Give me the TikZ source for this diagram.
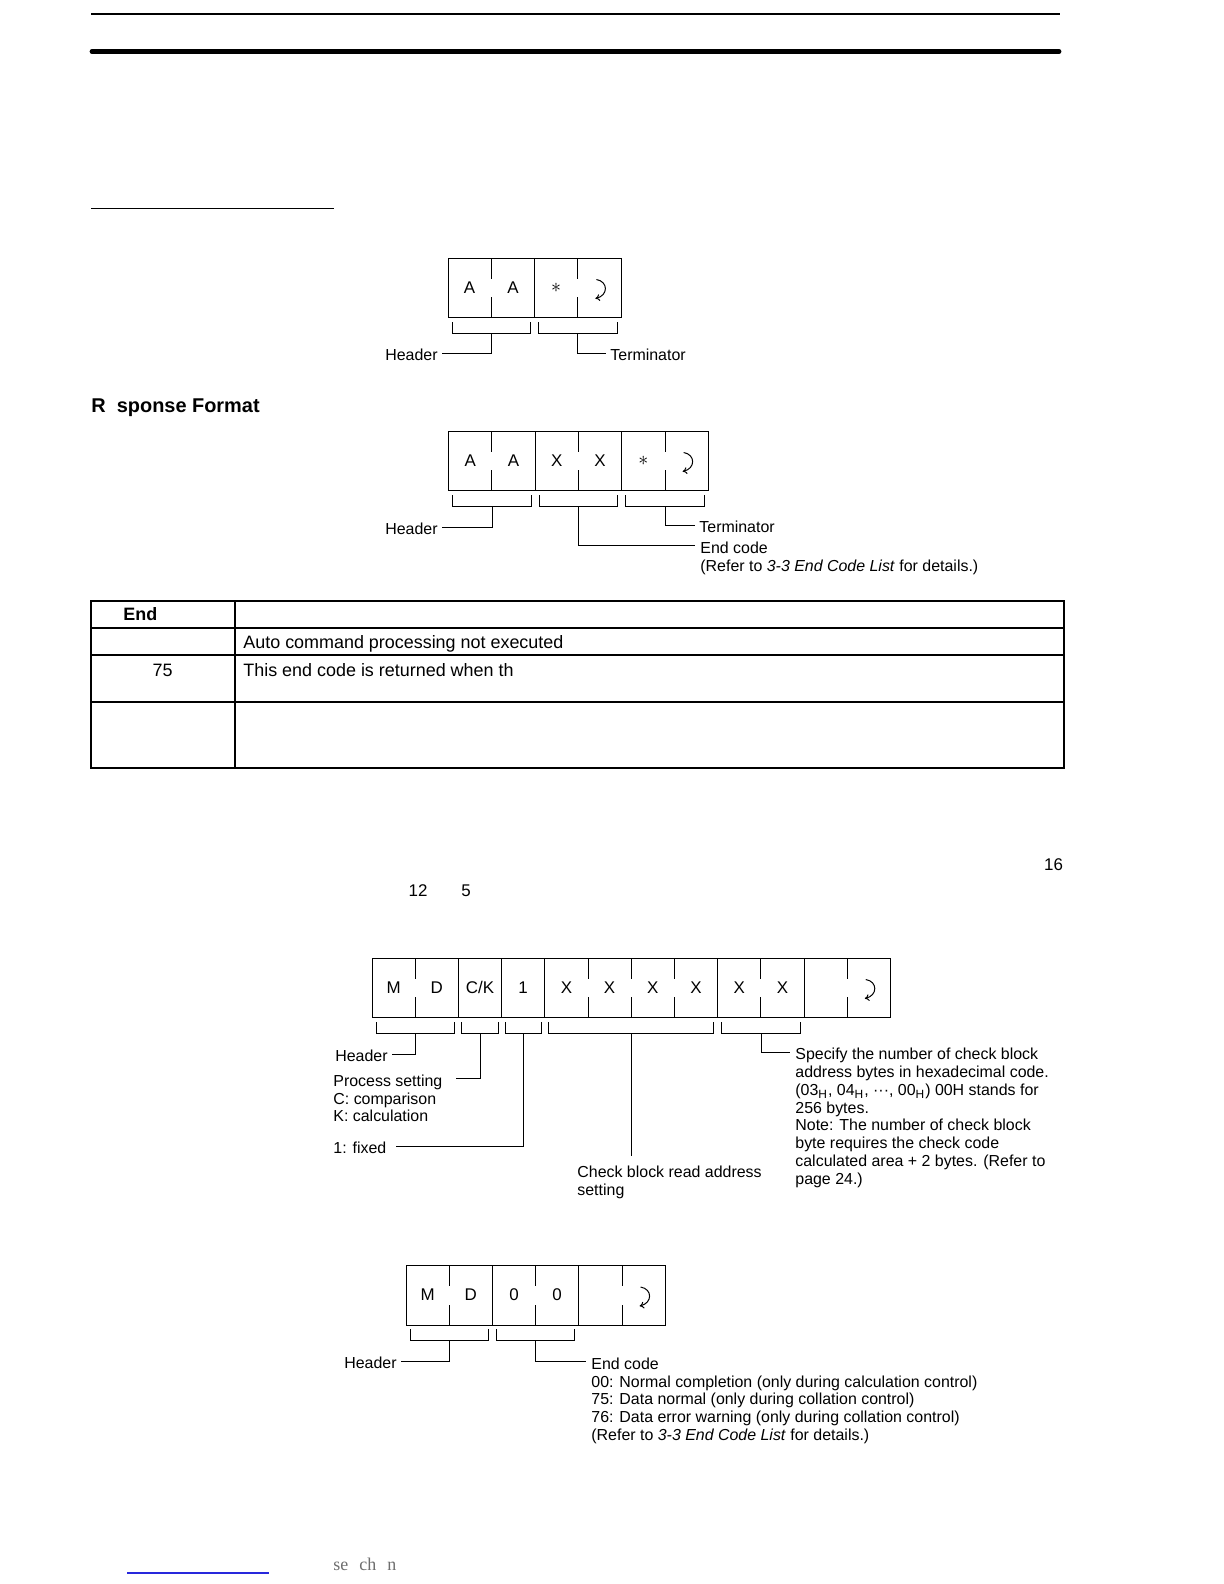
\documentclass[tikz,border=0pt]{standalone}
\usepackage{fontspec}
\setmainfont{Liberation Sans}
\newfontfamily\pgserif{Liberation Serif}
\usetikzlibrary{arrows.meta}
\newcommand\dgfont{\fontsize{8}{8.9}\selectfont}
\newcommand\cellfont{\fontsize{8.5}{9}\selectfont}
\newcommand\tabfont{\fontsize{9}{10}\selectfont}
\definecolor{linkblue}{RGB}{40,40,220}
\definecolor{footgrey}{RGB}{110,110,110}
\begin{document}
\begin{tikzpicture}[x=0.5bp,y=-0.5bp,
  frame/.style={line width=0.5bp},
  lead/.style={line width=0.5bp},
  cellt/.style={font=\cellfont, inner sep=0pt},
  lbl/.style={font=\dgfont, inner sep=2bp, text height=7.8bp, text depth=0pt},
  mlbl/.style={font=\dgfont, inner sep=0pt, align=left, anchor=north west},
  tabt/.style={font=\tabfont, inner sep=0pt, anchor=base west},
  retarrow/.pic={\draw[line width=0.5bp,-{To[length=2.2bp,width=3.4bp]}] (-3,-8) .. controls (9,-6) and (9,8) .. (-4,11);}]
\useasboundingbox (0,0) rectangle (1224,1584);
\fill[white] (0,0) rectangle (1224,1584);

% page rules
\draw[line width=1bp] (91,13.5) -- (1060,13.5);
\draw[line width=2.4bp,line cap=round] (92,51.5) -- (1059,51.5);
\draw[line width=0.8bp] (91,208.5) -- (334,208.5);

% ---------- diagram 1 ----------
\draw[frame] (448,258) rectangle (621,317);
\draw[frame] (534.5,258) -- (534.5,317);
\foreach \x in {491.25,577.75} \draw[frame] (\x,258) -- (\x,279) (\x,297) -- (\x,317);
\node[cellt] (c1a) at (469.6,287.5) {A};
\node[cellt] (c1b) at (512.9,287.5) {A};
\node[cellt,font=\fontsize{10}{10}\selectfont] (c1c) at (556.1,287.5) {$\ast$};
\pic at (599.4,287.5) {retarrow};
\draw[lead] (452,322) |- (530.5,333) -- (530.5,322);
\draw[lead] (538.5,322) |- (617,333) -- (617,322);
\coordinate (g11) at (491.25,333);
\coordinate (g12) at (577.75,333);
\node[lbl,anchor=east] (hd1) at (442,353) {Header};
\node[lbl,anchor=west] (tm1) at (606,353) {Terminator};
\draw[lead] (g11) |- (hd1.east);
\draw[lead] (g12) |- (tm1.west);

% heading
\node[font=\fontsize{10}{12}\selectfont\bfseries, inner sep=0pt, anchor=base west] (rf) at (91,412) {R\phantom{e}sponse Format};

% ---------- diagram 2 ----------
\draw[frame] (448.5,431) rectangle (708.3,490);
\foreach \x in {535.1,621.7} \draw[frame] (\x,431) -- (\x,490);
\foreach \x in {491.8,578.4,665} \draw[frame] (\x,431) -- (\x,452) (\x,470) -- (\x,490);
\node[cellt] (c2a) at (470.15,460.5) {A};
\node[cellt] (c2b) at (513.45,460.5) {A};
\node[cellt] (c2c) at (556.75,460.5) {X};
\node[cellt] (c2d) at (600.05,460.5) {X};
\node[cellt,font=\fontsize{10}{10}\selectfont] (c2e) at (643.35,460.5) {$\ast$};
\pic at (686.65,460.5) {retarrow};
\draw[lead] (452.5,495) |- (531.8,506) -- (531.8,495);
\draw[lead] (539.1,495) |- (617.7,506) -- (617.7,495);
\draw[lead] (625.7,495) |- (704.3,506) -- (704.3,495);
\coordinate (g21) at (492.15,506);
\coordinate (g22) at (578.4,506);
\coordinate (g23) at (665,506);
\node[lbl,anchor=east] (hd2) at (442,527) {Header};
\node[lbl,anchor=west] (tm2) at (695,525) {Terminator};
\coordinate (ec2) at (695,545.5);
\node[mlbl] (ecl2) at (700,541.5) {End code\\(Refer to \textit{3-3 End Code List} for details.)};
\draw[lead] (g21) |- (hd2.east);
\draw[lead] (g23) |- (tm2.west);
\draw[lead] (g22) |- (ec2);

% ---------- table ----------
\draw[line width=1bp] (91,601) rectangle (1064,768);
\draw[line width=0.6bp] (91,628) -- (1064,628);
\draw[line width=1bp] (91,655) -- (1064,655);
\draw[line width=0.6bp] (91,702) -- (1064,702);
\draw[line width=0.6bp] (235,601) -- (235,768);
\node[tabt,font=\tabfont\bfseries] (th1) at (123,620.5) {End};
\node[tabt] (tr1) at (243,648.5) {Auto command processing not executed};
\node[font=\tabfont, inner sep=0pt, anchor=base] (tc2) at (162.6,676) {75};
\node[tabt] (tr2) at (243,676) {This end code is returned when th};

% numbers
\node[font=\fontsize{8.5}{9}\selectfont, inner sep=0pt, anchor=base] (n16) at (1053.5,870) {16};
\node[font=\fontsize{8.5}{9}\selectfont, inner sep=0pt, anchor=base] (n12) at (418,896) {12};
\node[font=\fontsize{8.5}{9}\selectfont, inner sep=0pt, anchor=base] (n5) at (466,896) {5};

% ---------- diagram 3 ----------
\draw[frame] (372,958) rectangle (890.4,1017);
\foreach \x in {458.4,501.6,544.8,717.6,804} \draw[frame] (\x,958) -- (\x,1017);
\foreach \x in {415.2,588,631.2,674.4,760.8,847.2} \draw[frame] (\x,958) -- (\x,979) (\x,997) -- (\x,1017);
\node[cellt] (c3a) at (393.6,987.5) {M};
\node[cellt] (c3b) at (436.8,987.5) {D};
\node[cellt] (c3c) at (480,987.5) {C/K};
\node[cellt] (c3d) at (523.2,987.5) {1};
\node[cellt] (c3e) at (566.4,987.5) {X};
\node[cellt] (c3f) at (609.6,987.5) {X};
\node[cellt] (c3g) at (652.8,987.5) {X};
\node[cellt] (c3h) at (696,987.5) {X};
\node[cellt] (c3i) at (739.2,987.5) {X};
\node[cellt] (c3j) at (782.4,987.5) {X};
\pic at (868.8,987.5) {retarrow};
\draw[lead] (376,1022) |- (454.4,1033) -- (454.4,1022);
\draw[lead] (461.9,1022) |- (498.1,1033) -- (498.1,1022);
\draw[lead] (505.1,1022) |- (541.3,1033) -- (541.3,1022);
\draw[lead] (548.8,1022) |- (713.6,1033) -- (713.6,1022);
\draw[lead] (721.6,1022) |- (800.8,1033) -- (800.8,1022);
\coordinate (g31) at (415.2,1033);
\coordinate (g32) at (480,1033);
\coordinate (g33) at (523.2,1033);
\coordinate (g34) at (631.2,1033);
\coordinate (g35) at (761.2,1033);
\node[lbl,anchor=east] (hd3) at (392,1054) {Header};
\coordinate (ps3) at (456,1078.5);
\node[mlbl] (psl3) at (333,1074.5) {Process setting\\C: comparison\\K: calculation};
\coordinate (fx3) at (396,1146);
\node[lbl,anchor=west] (fxl3) at (329,1146) {1: fixed};
\coordinate (cb3) at (631.2,1156);
\node[mlbl] (cbl3) at (577,1166) {Check block read address\\setting};
\coordinate (sp3) at (790,1052);
\node[mlbl] (spl3) at (795,1048) {Specify the number of check block\\
address bytes in hexadecimal code.\\
(03\textsubscript{H}, 04\textsubscript{H}, ···, 00\textsubscript{H}) 00H stands for\\
256 bytes.\\
Note: The number of check block\\
byte requires the check code\\
calculated area + 2 bytes. (Refer to\\
page 24.)};
\draw[lead] (g31) |- (hd3.east);
\draw[lead] (g32) |- (ps3);
\draw[lead] (g33) |- (fx3);
\draw[lead] (g34) -- (cb3);
\draw[lead] (g35) |- (sp3);

% ---------- diagram 4 ----------
\draw[frame] (406,1265) rectangle (665.2,1325);
\foreach \x in {492.4,578.8} \draw[frame] (\x,1265) -- (\x,1325);
\foreach \x in {449.2,535.6,622} \draw[frame] (\x,1265) -- (\x,1286) (\x,1305) -- (\x,1325);
\node[cellt] (c4a) at (427.6,1295) {M};
\node[cellt] (c4b) at (470.8,1295) {D};
\node[cellt] (c4c) at (514,1295) {0};
\node[cellt] (c4d) at (557.2,1295) {0};
\pic at (643.6,1295) {retarrow};
\draw[lead] (410,1329) |- (488.4,1340) -- (488.4,1329);
\draw[lead] (496.4,1329) |- (574.8,1340) -- (574.8,1329);
\coordinate (g41) at (449.2,1340);
\coordinate (g42) at (535.6,1340);
\node[lbl,anchor=east] (hd4) at (401,1361) {Header};
\coordinate (ec4) at (586,1361);
\node[mlbl] (ecl4) at (591,1357.5) {End code\\
00: Normal completion (only during calculation control)\\
75: Data normal (only during collation control)\\
76: Data error warning (only during collation control)\\
(Refer to \textit{3-3 End Code List} for details.)};
\draw[lead] (g41) |- (hd4.east);
\draw[lead] (g42) |- (ec4);

% ---------- footer ----------
\draw[linkblue, line width=0.6bp] (127,1573) -- (269,1573);
\node[font=\pgserif\fontsize{9}{10}\selectfont, text=footgrey, inner sep=0pt, anchor=base west] (ft) at (333,1570) {se\hspace{5.5bp}ch\hspace{5.5bp}n};
\end{tikzpicture}
\end{document}
